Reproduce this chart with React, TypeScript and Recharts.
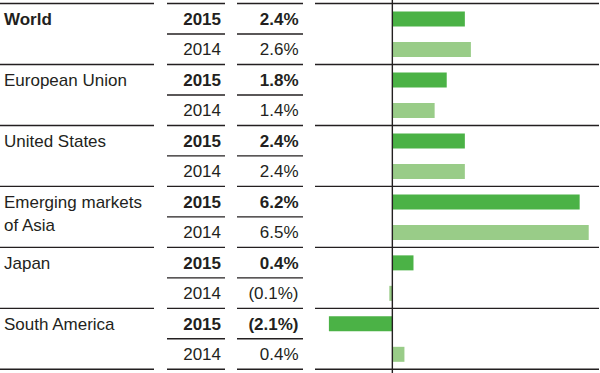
import React from 'react'
import { BarChart, Bar, XAxis, YAxis, Cell, ReferenceLine } from 'recharts'

const regions = ['World', 'European Union', 'United States', 'Emerging markets of Asia', 'Japan', 'South America']
const years = ['2015', '2014']
// printed figures in the table
const labels2015 = ['2.4%', '1.8%', '2.4%', '6.2%', '0.4%', '(2.1%)']
const labels2014 = ['2.6%', '1.4%', '2.4%', '6.5%', '(0.1%)', '0.4%']
// bar lengths as drawn in the picture (Japan 2015 bar is drawn longer than its label)
const bars2015 = [2.4, 1.8, 2.4, 6.2, 0.7, -2.1]
const bars2014 = [2.6, 1.4, 2.4, 6.5, -0.1, 0.4]
const regionLines: Record<string, string[]> = {
  'Emerging markets of Asia': ['Emerging markets', 'of Asia'],
}

const WIDTH = 600
const HEIGHT = 373
const TOP = 3.5
const BOTTOM = 3.7
const ROW_H = (HEIGHT - TOP - BOTTOM) / (regions.length * 2)
const TEXT = '#231f20'
const DARK = '#4bb246'
const LIGHT = '#99cc88'
const FONT = '"Liberation Sans", Arial, Helvetica, sans-serif'

const rows = regions.flatMap((region, i) => [
  { key: `${region}|${years[0]}`, region, year: years[0], label: labels2015[i], value: bars2015[i], first: true },
  { key: `${region}|${years[1]}`, region, year: years[1], label: labels2014[i], value: bars2014[i], first: false },
])

const groupSegs = [[0, 154], [167, 225], [237, 303], [315, 599]]
const innerSegs = [[167, 225], [237, 303]]

function RowTick(props: any) {
  const { y, payload } = props
  const row = rows.find(r => r.key === payload.value)
  if (!row) return null
  const idx = rows.indexOf(row)
  const bold = row.first
  const base = y + 6
  const bottom = y + ROW_H / 2
  const top = y - ROW_H / 2
  const lines = regionLines[row.region] || [row.region]
  return (
    <g fontFamily={FONT} fontSize={17} fill={TEXT}>
      {row.first &&
        lines.map((l, k) => (
          <text key={k} x={4} y={base + k * 23.5} fontWeight={row.region === 'World' ? 'bold' : 'normal'}>
            {l}
          </text>
        ))}
      <text x={221} y={base} textAnchor="end" fontWeight={bold ? 'bold' : 'normal'}>
        {row.year}
      </text>
      <text x={298.5} y={base} textAnchor="end" fontWeight={bold ? 'bold' : 'normal'}>
        {row.label}
      </text>
      {idx === 0 &&
        groupSegs.map(([a, b], k) => (
          <line key={`t${k}`} x1={a} x2={b} y1={top} y2={top} stroke={TEXT} strokeWidth={1.4} />
        ))}
      {(row.first ? innerSegs : groupSegs).map(([a, b], k) => (
        <line key={`b${k}`} x1={a} x2={b} y1={bottom} y2={bottom} stroke={TEXT} strokeWidth={1.4} />
      ))}
    </g>
  )
}

export default function App() {
  return (
    <div style={{ position: 'absolute', left: 0, top: 0, background: '#fff' }}>
      <BarChart
        width={WIDTH}
        height={HEIGHT}
        data={rows}
        layout="vertical"
        margin={{ top: TOP, right: 1, bottom: BOTTOM, left: 0 }}
        barCategoryGap={0}
      >
        <XAxis type="number" domain={[-2.56, 6.84]} hide />
        <YAxis
          type="category"
          dataKey="key"
          width={315}
          interval={0}
          axisLine={false}
          tickLine={false}
          tick={<RowTick />}
        />
        <Bar dataKey="value" barSize={15} isAnimationActive={false}>
          {rows.map(r => (
            <Cell key={r.key} fill={r.first ? DARK : LIGHT} />
          ))}
        </Bar>
        <ReferenceLine
          x={0}
          shape={(p: any) => (
            <line x1={p.x1} x2={p.x2} y1={0} y2={HEIGHT} stroke={TEXT} strokeWidth={1.4} />
          )}
        />
      </BarChart>
    </div>
  )
}
